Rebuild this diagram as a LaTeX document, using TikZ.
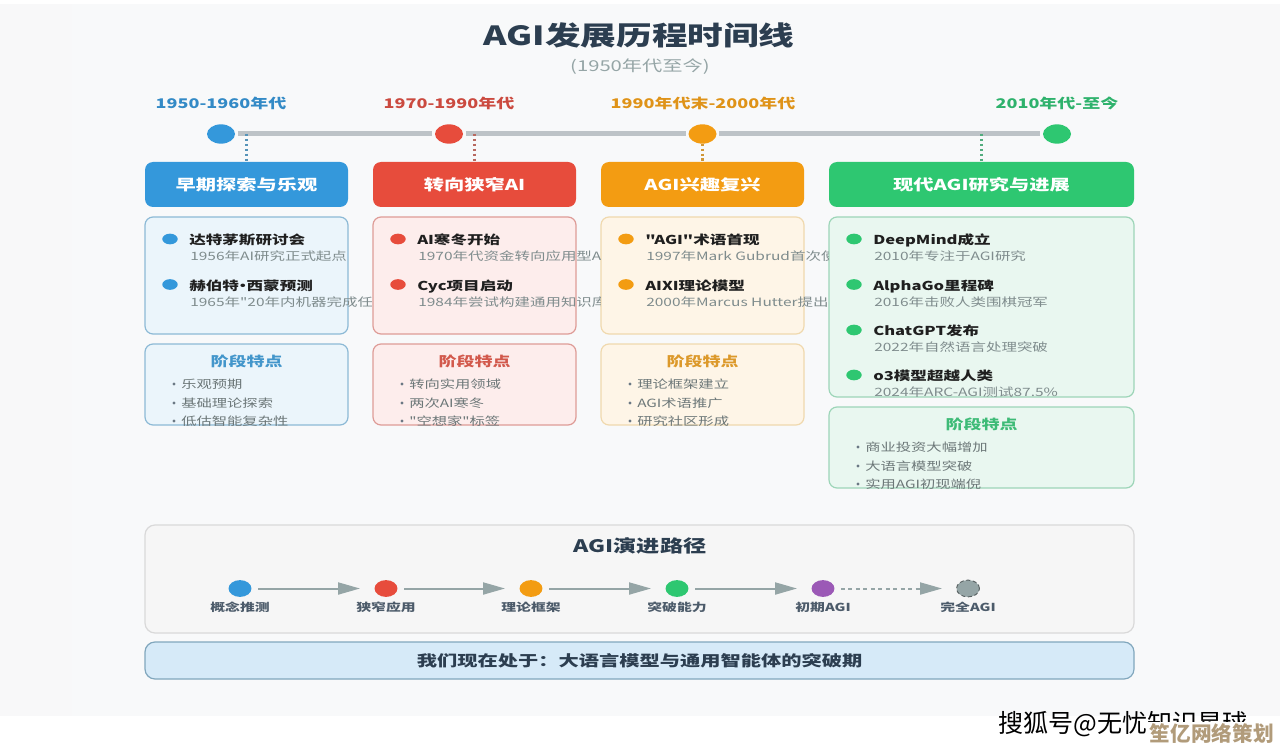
\documentclass[tikz,border=0pt]{standalone}
\usepackage{fontspec}
\usetikzlibrary{shapes.geometric,arrows.meta}
\newfontfamily\mainf[FakeStretch=1.35]{Noto Sans CJK SC}
\newfontfamily\plainfont{Noto Sans CJK SC}
\definecolor{cBlue}{HTML}{3498DB}
\definecolor{cRed}{HTML}{E74C3C}
\definecolor{cOrange}{HTML}{F39C12}
\definecolor{cGreen}{HTML}{2EC771}
\definecolor{cPurple}{HTML}{9B59B6}
\definecolor{fBlue}{HTML}{EBF5FB}
\definecolor{fRed}{HTML}{FDEDEC}
\definecolor{fOrange}{HTML}{FEF5E7}
\definecolor{fGreen}{HTML}{E9F7F0}
\definecolor{bBlue}{HTML}{8DBAD6}
\definecolor{bRed}{HTML}{DE9C97}
\definecolor{bOrange}{HTML}{F0D9AE}
\definecolor{bGreen}{HTML}{9DD5B8}
\definecolor{cDark}{HTML}{2C3E50}
\definecolor{cGray}{HTML}{7F8C8D}
\definecolor{cLine}{HTML}{BDC3C7}
\definecolor{cArrow}{HTML}{95A5A6}
\definecolor{cBg}{HTML}{F8F9FA}
\definecolor{cSide}{HTML}{F8F8F9}
\definecolor{cStatus}{HTML}{D6EAF8}
\definecolor{cBrand}{HTML}{B19B7A}
\newcommand\fsz[1]{\mainf\fontsize{#1}{#1}\selectfont}
\newcommand\panel[7]{\node[#2,rectangle,inner sep=0pt,outer sep=0pt,minimum width={(#5-#3)*0.75pt},minimum height={(#6-#4)*0.75pt}] (#1) at ({(#3+#5)/2},{(#4+#6)/2}) {#7};}
% event: name, colour, col left, y, title, sub
\newcommand\evt[6]{%
 \node[bulletdot,fill=#2] (#1d) at ({#3+25},{#4}) {};
 \node[evttitle] (#1t) at ({#3+44},{#4+5.5}) {#5};
 \node[evtsub] (#1s) at ({#3+45},{#4+21.5}) {#6};}
% stage items: name, colour, y of title, centre, col left, three items
\newcommand\stage[8]{%
 \node[stagetitle,text=#2] (#1t) at ({#4},{#3+5}) {阶段特点};
 \foreach \i/\dy/\tx in {a/27/{#6},b/46/{#7},c/64/{#8}}{
  \node[itemdot] (#1\i d) at ({#5+29},{#3+\dy-4}) {};
  \node[itemtext] (#1\i t) at ({#5+36},{#3+\dy}) {\tx};}}
\tikzset{
 x=0.75pt,y=-0.75pt,
 tdot/.style={ellipse,inner sep=0pt,outer sep=0pt,minimum width=21pt,minimum height=14.5pt},
 tline/.style={cLine,line width=3.75pt,shorten <=2.2pt,shorten >=2.2pt},
 drop/.style={line width=1.7pt,dash pattern=on 1.6pt off 2.1pt},
 year/.style={font=\fsz{10}\bfseries,inner sep=0pt},
 header/.style={rounded corners=6pt,font=\fsz{11.25}\bfseries,text=white},
 card/.style={rounded corners=6pt,line width=0.9pt},
 bulletdot/.style={ellipse,inner sep=0pt,minimum width=11.6pt,minimum height=8pt},
 evttitle/.style={anchor=base west,inner sep=0pt,font=\fsz{9.2}\bfseries,text=black!88},
 evtsub/.style={anchor=base west,inner sep=0pt,font=\fsz{8.6},text=cGray},
 stagetitle/.style={anchor=base,inner sep=0pt,font=\fsz{10}\bfseries},
 itemdot/.style={circle,fill=cDark!70,inner sep=0pt,minimum size=2.4pt},
 itemtext/.style={anchor=base west,inner sep=0pt,font=\fsz{8.5},text=cGray!85!black},
 pdot/.style={ellipse,inner sep=0pt,outer sep=0pt,minimum width=17.2pt,minimum height=12.6pt},
 plabel/.style={inner sep=0pt,font=\fsz{8.25}\bfseries,text=cDark!85},
 flow/.style={cArrow,line width=1.5pt,shorten <=4.9pt,shorten >=10.9pt,-{Triangle[length=16.5pt,width=9pt]}},
}
\begin{document}
\begin{tikzpicture}
\useasboundingbox (0,0) rectangle (1280,752);
\fill[white] (0,0) rectangle (1280,752);
\fill[cSide] (0,4) rectangle (1280,716);
\fill[cBg] (72,4) rectangle (1210,716);
% heading
\node[inner sep=0pt,font=\fsz{19.8}\bfseries,text=cDark] (title) at (639,35) {AGI发展历程时间线};
\node[inner sep=0pt,font=\fsz{11.25},text=cArrow] (subtitle) at (640,66.5) {(1950年代至今)};
% year labels
\node[year,text=cBlue!85!cDark] (y1) at (221,103) {1950-1960年代};
\node[year,text=cRed!85!cDark] (y2) at (449,103) {1970-1990年代};
\node[year,text=cOrange!90!cDark] (y3) at (703,103) {1990年代末-2000年代};
\node[year,text=cGreen!85!cDark] (y4) at (1057,103) {2010年代-至今};
% timeline dots
\node[tdot,fill=cBlue] (t1) at (221,134) {};
\node[tdot,fill=cRed] (t2) at (449,134) {};
\node[tdot,fill=cOrange] (t3) at (702.5,134) {};
\node[tdot,fill=cGreen] (t4) at (1057,134) {};
\draw[tline] (t1) -- (t2);
\draw[tline] (t2) -- (t3);
\draw[tline] (t3) -- (t4);
% headers
\panel{h1}{header,fill=cBlue}{145}{162}{348}{207}{\raisebox{-2.2pt}{早期探索与乐观}}
\panel{h2}{header,fill=cRed}{373}{162}{576}{207}{\raisebox{-2.2pt}{转向狭窄AI}}
\panel{h3}{header,fill=cOrange}{601}{162}{804}{207}{\raisebox{-2.2pt}{AGI兴趣复兴}}
\panel{h4}{header,fill=cGreen}{829}{162}{1134}{207}{\raisebox{-2.2pt}{现代AGI研究与进展}}
\coordinate (c1) at (h1.north |- t1);
\coordinate (c2) at (h2.north |- t2);
\coordinate (c4) at (h4.north |- t4);
\draw[drop,cBlue!55!cGray] (c1) -- (h1.north);
\draw[drop,cRed!55!cGray] (c2) -- (h2.north);
\draw[drop,cOrange!70!cGray] (t3) -- (h3.north);
\draw[drop,cGreen!55!cGray] (c4) -- (h4.north);
% main cards
\panel{m1}{card,fill=fBlue,draw=bBlue}{145}{217}{348}{334}{}
\panel{m2}{card,fill=fRed,draw=bRed}{373}{217}{576}{334}{}
\panel{m3}{card,fill=fOrange,draw=bOrange}{601}{217}{804}{334}{}
\panel{m4}{card,fill=fGreen,draw=bGreen}{829}{217}{1134}{397}{}
% stage cards
\panel{s1}{card,fill=fBlue,draw=bBlue}{145}{344}{348}{425}{}
\panel{s2}{card,fill=fRed,draw=bRed}{373}{344}{576}{425}{}
\panel{s3}{card,fill=fOrange,draw=bOrange}{601}{344}{804}{425}{}
\panel{s4}{card,fill=fGreen,draw=bGreen}{829}{407}{1134}{488}{}
% events
\begin{scope}
\clip (145,217) rectangle (371,340);
\evt{e1}{cBlue}{145}{239}{达特茅斯研讨会}{1956年AI研究正式起点}
\evt{e2}{cBlue}{145}{284.5}{赫伯特\hspace{-0.36em}•\hspace{-0.36em}西蒙预测}{1965年"20年内机器完成任何工作"}
\end{scope}
\begin{scope}
\clip (373,217) rectangle (600,340);
\evt{e3}{cRed}{373}{239}{AI寒冬开始}{1970年代资金转向应用型AI研究}
\evt{e4}{cRed}{373}{284.5}{Cyc项目启动}{1984年尝试构建通用知识库系统}
\end{scope}
\begin{scope}
\clip (601,217) rectangle (828,340);
\evt{e5}{cOrange}{601}{239}{"AGI"术语首现}{1997年Mark Gubrud首次使用术语}
\evt{e6}{cOrange}{601}{284.5}{AIXI理论模型}{2000年Marcus Hutter提出理论模型}
\end{scope}
\evt{e7}{cGreen}{829}{239}{DeepMind成立}{2010年专注于AGI研究}
\evt{e8}{cGreen}{829}{284.5}{AlphaGo里程碑}{2016年击败人类围棋冠军}
\evt{e9}{cGreen}{829}{330}{ChatGPT发布}{2022年自然语言处理突破}
\evt{e10}{cGreen}{829}{375}{o3模型超越人类}{2024年ARC-AGI测试87.5\%}
% stage text
\begin{scope}
\clip (145,344) rectangle (348,427.5);
\stage{p1}{cBlue!80!cGray}{361}{246.5}{145}{乐观预期}{基础理论探索}{低估智能复杂性}
\end{scope}
\begin{scope}
\clip (373,344) rectangle (576,427.5);
\stage{p2}{cRed!80!cGray}{361}{474.5}{373}{转向实用领域}{两次AI寒冬}{"空想家"标签}
\end{scope}
\begin{scope}
\clip (601,344) rectangle (804,427.5);
\stage{p3}{cOrange!80!cGray}{361}{702.5}{601}{理论框架建立}{AGI术语推广}{研究社区形成}
\end{scope}
\begin{scope}
\clip (829,407) rectangle (1134,490.5);
\stage{p4}{cGreen!80!cGray}{424}{981.5}{829}{商业投资大幅增加}{大语言模型突破}{实用AGI初现端倪}
\end{scope}
% path panel
\panel{path}{rounded corners=7.5pt,fill=black!3.5,draw=black!15,line width=0.9pt}{145}{525}{1134}{633}{}
\node[inner sep=0pt,font=\fsz{12.9}\bfseries,text=cDark] (pathtitle) at (640,546) {AGI演进路径};
\node[pdot,fill=cBlue] (n1) at (240,588.5) {};
\node[pdot,fill=cRed] (n2) at (386,588.5) {};
\node[pdot,fill=cOrange] (n3) at (531,588.5) {};
\node[pdot,fill=cGreen] (n4) at (677,588.5) {};
\node[pdot,fill=cPurple] (n5) at (823,588.5) {};
\node[pdot,fill=cArrow,draw=cGray!70!black,densely dashed,line width=0.7pt] (n6) at (968,588.5) {};
\draw[flow] (n1) -- (n2);
\draw[flow] (n2) -- (n3);
\draw[flow] (n3) -- (n4);
\draw[flow] (n4) -- (n5);
\draw[flow,dash pattern=on 3pt off 2.6pt] (n5) -- (n6);
\node[plabel] (l1) at (240,607) {概念推测};
\node[plabel] (l2) at (386,607) {狭窄应用};
\node[plabel] (l3) at (531,607) {理论框架};
\node[plabel] (l4) at (677,607) {突破能力};
\node[plabel] (l5) at (823,607) {初期AGI};
\node[plabel] (l6) at (968,607) {完全AGI};
% status banner
\panel{status}{rounded corners=7.5pt,fill=cStatus,draw=cBlue!40!cGray!80,line width=0.9pt,font=\fsz{11.25}\bfseries,text=cDark}{145}{642}{1134}{679}{我们现在处于：大语言模型与通用智能体的突破期}
% watermarks
\node[inner sep=0pt,anchor=west,font=\plainfont\fontsize{18.8}{18.8}\selectfont,text=black] (wm1) at (998,724) {搜狐号@无忧知识星球};
\fill[white] (1146,721.5) rectangle (1280,752);
\node[inner sep=0pt,anchor=east,font=\plainfont\fontsize{15.5}{15.5}\selectfont\bfseries,text=cBrand] (wm2) at (1274,733.5) {笙亿网络策划};
\end{tikzpicture}
\end{document}
